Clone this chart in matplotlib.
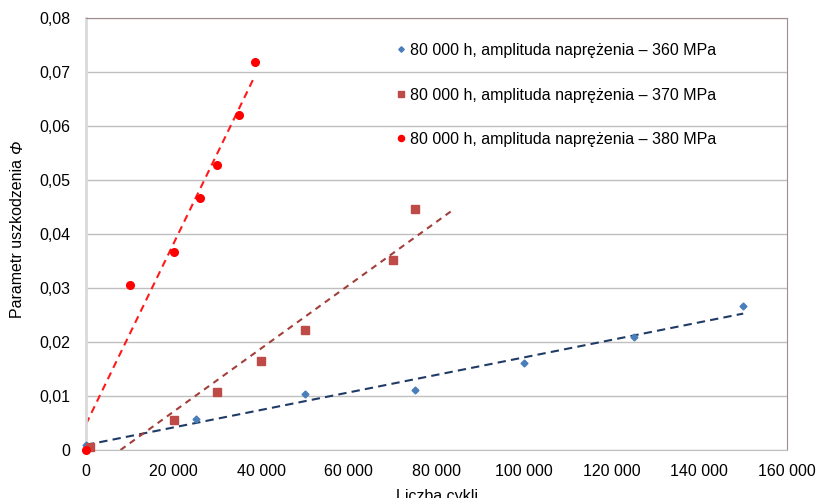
import matplotlib
matplotlib.use("Agg")
import matplotlib.pyplot as plt
import numpy as np
from matplotlib.ticker import FuncFormatter, MultipleLocator

plt.rcParams['font.family'] = ['Liberation Sans', 'DejaVu Sans']

# Data
labels = ["80 000 h, amplituda naprężenia – 360 MPa",
          "80 000 h, amplituda naprężenia – 370 MPa",
          "80 000 h, amplituda naprężenia – 380 MPa"]
x360 = [0, 25000, 50000, 75000, 100000, 125000, 150000]
y360 = [0.0009, 0.0057, 0.0103, 0.0111, 0.0161, 0.0210, 0.0266]
x370 = [1000, 20000, 30000, 40000, 50000, 70000, 75000]
y370 = [0.0005, 0.0056, 0.0107, 0.0165, 0.0222, 0.0352, 0.0446]
x380 = [0, 10000, 20000, 26000, 30000, 35000, 38500]
y380 = [0.0, 0.0306, 0.0367, 0.0466, 0.0527, 0.0620, 0.0718]
forecast_fwd = [0, 9000, 0]

colors = ["#4a7ebb", "#be4b48", "#ff0000"]
trend_colors = ["#1f3b66", "#a33f3b", "#ff1a1a"]
markers = ["D", "s", "o"]
msizes = [3.5, 5.5, 5.5]
dashes = [(4, 2.5), (3, 2.5), (3.5, 2.5)]

fig = plt.figure(figsize=(8.17, 4.98), dpi=100)
ax = fig.add_axes([86/817, 48/498, (787-86)/817, (450-18)/498])

series = [(x360, y360), (x370, y370), (x380, y380)]
for i, (xs, ys) in enumerate(series):
    xs = np.array(xs, float); ys = np.array(ys, float)
    a, b = np.polyfit(xs, ys, 1)
    x0 = max(xs.min(), -b / a if b < 0 else xs.min())
    x1 = xs.max() + forecast_fwd[i]
    xt = np.array([x0, x1])
    ax.plot(xt, a * xt + b, linestyle=(0, dashes[i]), color=trend_colors[i], lw=1.5, zorder=2)
    ax.plot(xs, ys, linestyle='none', marker=markers[i], ms=msizes[i], color=colors[i],
            label=labels[i], clip_on=False, zorder=3)

ax.set_xlim(0, 160000)
ax.set_ylim(0, 0.08)
ax.xaxis.set_major_locator(MultipleLocator(20000))
ax.yaxis.set_major_locator(MultipleLocator(0.01))
ax.xaxis.set_major_formatter(FuncFormatter(lambda v, p: f"{int(round(v)):,}".replace(",", " ")))
ax.yaxis.set_major_formatter(FuncFormatter(lambda v, p: "0" if abs(v) < 1e-12 else f"{v:.2f}".replace(".", ",")))
ax.grid(axis='y', color='#bfbfbf', lw=1)
ax.set_axisbelow(True)
ax.spines['top'].set_color('#a08c8c')
ax.spines['left'].set_color('#d9d9d9')
ax.spines['left'].set_linewidth(2)
ax.spines['bottom'].set_color('#bfbfbf')
ax.spines['right'].set_color('#a08c8c')
ax.tick_params(axis='both', labelsize=11.5, colors='#000000', length=0)
ax.tick_params(axis='y', pad=11)
ax.tick_params(axis='x', pad=10)

# y label: upright text followed by italic Phi
t1 = fig.text(18/817, 1 - 236/498, "Parametr uszkodzenia ", rotation=90,
              ha='center', va='center', fontsize=11.5)
ax.annotate("Φ", xy=(0.5, 1.0), xycoords=t1, rotation=90, ha='center', va='bottom',
            fontsize=11.5, fontstyle='italic', annotation_clip=False)
ax.set_xlabel("Liczba cykli", fontsize=11.5, labelpad=7)

leg = ax.legend(loc='upper left', bbox_to_anchor=(388/817, 1 - 35/498), bbox_transform=fig.transFigure,
                frameon=False, fontsize=11.5, handlelength=0.6, handletextpad=0.3,
                labelspacing=1.85, borderpad=0, markerscale=0.8)

fig.savefig("out.png", dpi=100)
